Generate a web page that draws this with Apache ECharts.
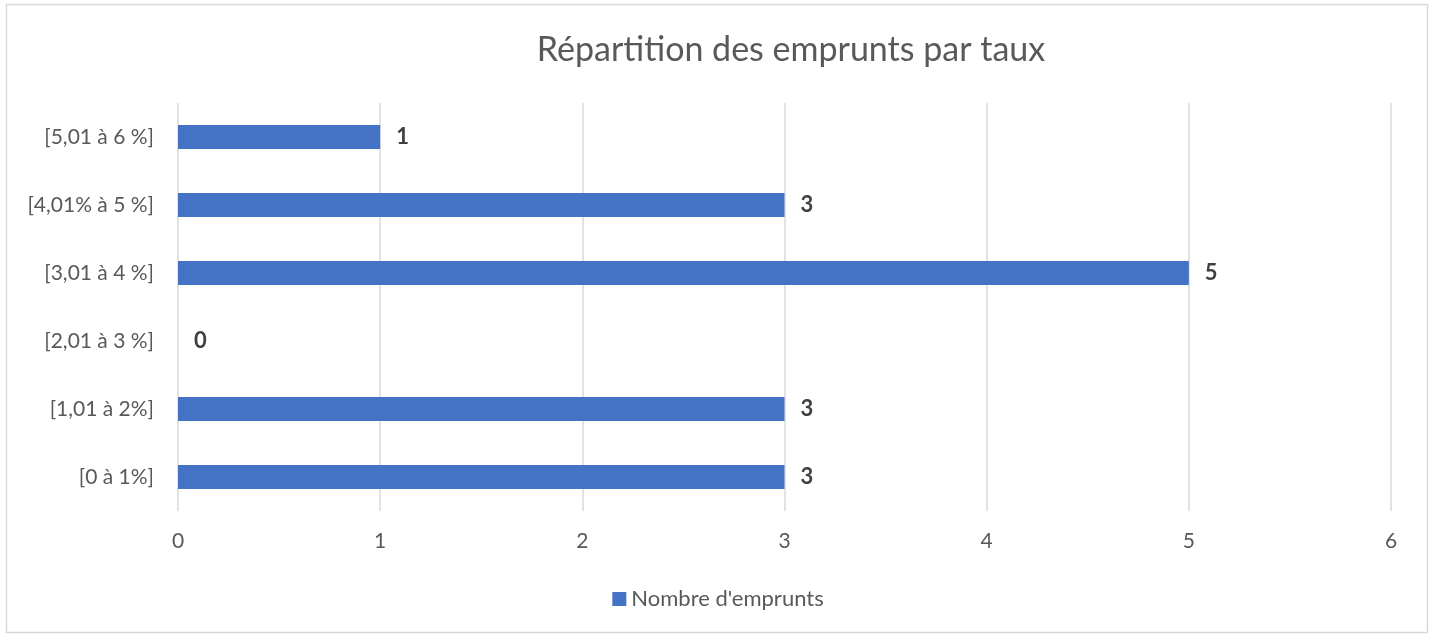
<!DOCTYPE html>
<html>
<head>
<meta charset="utf-8">
<script src="https://cdn.jsdelivr.net/npm/echarts@6/dist/echarts.min.js"></script>
<style>
  html, body { margin: 0; padding: 0; background: #fff; }
  #chart { width: 1436px; height: 637px; }
</style>
</head>
<body>
<div id="chart"></div>
<script>
  // catégories de taux (de bas en haut)
  const categories = ['[0 à 1%]', '[1,01 à 2%]', '[2,01 à 3 %]', '[3,01 à 4 %]', '[4,01% à 5 %]', '[5,01 à 6 %]']
  const emprunts = [3, 3, 0, 5, 3, 1]
  const xTicks = [0, 1, 2, 3, 4, 5, 6]

  const fontFamily = 'Lato, "Open Sans", sans-serif'
  const chart = echarts.init(document.getElementById('chart'))
  chart.setOption({
    animation: false,
    title: {
      text: 'Répartition des emprunts par taux',
      left: 786,
      top: 28,
      textAlign: 'center',
      textStyle: { fontFamily, fontSize: 34, fontWeight: 'normal', color: '#595959' }
    },
    graphic: [{
      type: 'rect',
      shape: { x: 6.5, y: 4.5, width: 1421, height: 628 },
      style: { fill: 'none', stroke: '#d9d9d9', lineWidth: 1.5 },
      silent: true
    }],
    legend: {
      left: 'center',
      top: 583,
      itemWidth: 14,
      itemHeight: 14,
      itemGap: 6,
      icon: 'rect',
      textStyle: { fontFamily, fontSize: 22, color: '#595959' },
      data: ["Nombre d'emprunts"]
    },
    grid: { left: 178, right: 45, top: 103, bottom: 126 },
    xAxis: {
      type: 'value',
      min: xTicks[0],
      max: xTicks[xTicks.length - 1],
      interval: 1,
      axisLine: { show: false },
      axisTick: { show: false },
      axisLabel: { margin: 20, fontFamily, fontSize: 21, color: '#595959' },
      splitLine: { lineStyle: { color: '#d9d9d9', width: 1.5 } }
    },
    yAxis: {
      type: 'category',
      data: categories,
      axisLine: { show: false },
      axisTick: { show: false },
      axisLabel: { margin: 24, fontFamily, fontSize: 21, color: '#595959' }
    },
    series: [{
      name: "Nombre d'emprunts",
      type: 'bar',
      data: emprunts,
      barWidth: 24,
      itemStyle: { color: '#4472C4' },
      label: {
        show: true,
        position: 'right',
        distance: 16,
        fontFamily,
        fontSize: 22,
        fontWeight: 'bold',
        color: '#404040'
      }
    }]
  })
</script>
</body>
</html>
